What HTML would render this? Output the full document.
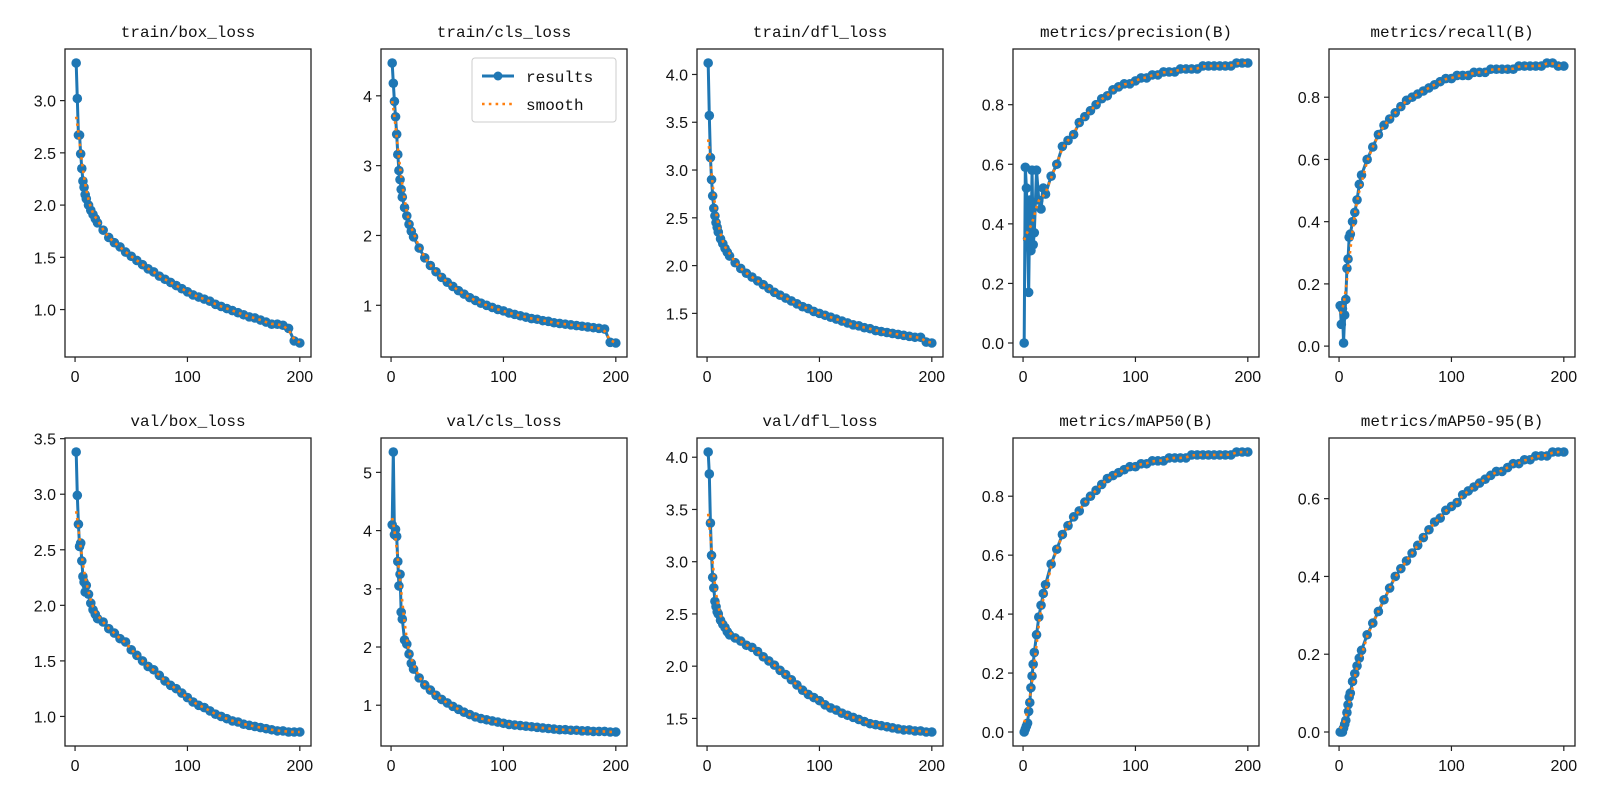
<!DOCTYPE html>
<html><head><meta charset="utf-8"><style>
html,body{margin:0;padding:0;background:#fff;}
svg{display:block;}
text{font-family:"Liberation Sans","Noto Sans CJK SC",sans-serif;fill:#111;}
.title{font-family:"Liberation Mono","Noto Sans CJK SC",monospace;font-size:16px;}
.tick{font-size:16px;}
</style></head><body>
<svg id="fig" width="1600" height="800" viewBox="0 0 1600 800" xmlns="http://www.w3.org/2000/svg"></svg>
<script>
const epochs=[1,2,3,4,5,6,7,8,9,10,12,14,16,18,20,25,30,35,40,45,50,55,60,65,70,75,80,85,90,95,100,105,110,115,120,125,130,135,140,145,150,155,160,165,170,175,180,185,190,195,200];
const titles=["train/box_loss","train/cls_loss","train/dfl_loss","metrics/precision(B)","metrics/recall(B)","val/box_loss","val/cls_loss","val/dfl_loss","metrics/mAP50(B)","metrics/mAP50-95(B)"];
const trainBox=[3.36,3.02,2.67,2.67,2.49,2.35,2.23,2.17,2.10,2.06,2.00,1.95,1.91,1.87,1.83,1.76,1.69,1.64,1.60,1.55,1.51,1.47,1.43,1.39,1.36,1.32,1.29,1.26,1.23,1.20,1.17,1.14,1.12,1.10,1.08,1.05,1.03,1.01,0.99,0.97,0.95,0.93,0.92,0.90,0.88,0.86,0.86,0.85,0.82,0.70,0.68];
const trainCls=[4.47,4.18,3.92,3.70,3.45,3.16,2.93,2.80,2.66,2.55,2.40,2.28,2.16,2.06,1.98,1.82,1.68,1.57,1.48,1.40,1.33,1.27,1.21,1.16,1.11,1.07,1.03,1.00,0.97,0.94,0.92,0.89,0.87,0.85,0.83,0.81,0.80,0.78,0.77,0.75,0.74,0.73,0.72,0.71,0.70,0.69,0.68,0.67,0.66,0.47,0.46];
const trainDfl=[4.12,3.57,3.13,2.90,2.73,2.60,2.52,2.45,2.40,2.35,2.28,2.23,2.18,2.14,2.10,2.03,1.97,1.92,1.88,1.84,1.80,1.76,1.72,1.69,1.66,1.63,1.60,1.57,1.55,1.52,1.50,1.48,1.46,1.44,1.42,1.40,1.38,1.37,1.35,1.34,1.32,1.31,1.30,1.29,1.28,1.27,1.26,1.25,1.25,1.20,1.19];
const precision=[0.00,0.59,0.52,0.35,0.17,0.48,0.31,0.58,0.33,0.37,0.58,0.48,0.45,0.52,0.50,0.56,0.60,0.66,0.68,0.70,0.74,0.76,0.78,0.80,0.82,0.83,0.85,0.86,0.87,0.87,0.88,0.89,0.89,0.90,0.90,0.91,0.91,0.91,0.92,0.92,0.92,0.92,0.93,0.93,0.93,0.93,0.93,0.93,0.94,0.94,0.94];
const recall=[0.13,0.07,0.12,0.01,0.10,0.15,0.25,0.28,0.35,0.36,0.40,0.43,0.47,0.52,0.55,0.60,0.64,0.68,0.71,0.73,0.75,0.77,0.79,0.80,0.81,0.82,0.83,0.84,0.85,0.86,0.86,0.87,0.87,0.87,0.88,0.88,0.88,0.89,0.89,0.89,0.89,0.89,0.90,0.90,0.90,0.90,0.90,0.91,0.91,0.90,0.90];
const valBox=[3.38,2.99,2.73,2.53,2.56,2.40,2.26,2.21,2.12,2.18,2.10,2.02,1.96,1.92,1.88,1.85,1.79,1.75,1.70,1.67,1.60,1.55,1.50,1.45,1.42,1.37,1.32,1.28,1.25,1.21,1.17,1.13,1.10,1.08,1.05,1.02,1.00,0.98,0.96,0.95,0.93,0.92,0.91,0.90,0.89,0.88,0.87,0.87,0.86,0.86,0.86];
const valCls=[4.10,5.35,3.93,4.02,3.90,3.47,3.05,3.25,2.60,2.48,2.12,2.05,1.88,1.72,1.62,1.47,1.35,1.26,1.17,1.10,1.04,0.98,0.93,0.88,0.84,0.80,0.77,0.75,0.73,0.71,0.69,0.67,0.66,0.65,0.64,0.63,0.62,0.61,0.60,0.59,0.58,0.58,0.57,0.57,0.56,0.56,0.55,0.55,0.55,0.54,0.54];
const valDfl=[4.05,3.84,3.37,3.06,2.85,2.75,2.62,2.57,2.52,2.50,2.44,2.40,2.37,2.33,2.30,2.27,2.24,2.20,2.18,2.14,2.09,2.05,2.01,1.96,1.92,1.87,1.82,1.77,1.73,1.70,1.67,1.63,1.60,1.58,1.55,1.53,1.51,1.49,1.47,1.45,1.44,1.43,1.42,1.41,1.40,1.39,1.39,1.38,1.38,1.37,1.37];
const map50=[0.00,0.01,0.02,0.03,0.07,0.10,0.15,0.19,0.23,0.27,0.33,0.39,0.43,0.47,0.50,0.57,0.62,0.67,0.70,0.73,0.75,0.78,0.80,0.82,0.84,0.86,0.87,0.88,0.89,0.90,0.90,0.91,0.91,0.92,0.92,0.92,0.93,0.93,0.93,0.93,0.94,0.94,0.94,0.94,0.94,0.94,0.94,0.94,0.95,0.95,0.95];
const map5095=[0.00,0.00,0.00,0.01,0.02,0.03,0.05,0.07,0.09,0.10,0.13,0.15,0.17,0.19,0.21,0.25,0.28,0.31,0.34,0.37,0.40,0.42,0.44,0.46,0.48,0.50,0.52,0.54,0.55,0.57,0.58,0.59,0.61,0.62,0.63,0.64,0.65,0.66,0.67,0.67,0.68,0.69,0.69,0.70,0.70,0.71,0.71,0.71,0.72,0.72,0.72];
const xTicks=[0,100,200];
const yTicks=[[1.0,1.5,2.0,2.5,3.0],[1,2,3,4],[1.5,2.0,2.5,3.0,3.5,4.0],[0.0,0.2,0.4,0.6,0.8],[0.0,0.2,0.4,0.6,0.8],[1.0,1.5,2.0,2.5,3.0,3.5],[1,2,3,4,5],[1.5,2.0,2.5,3.0,3.5,4.0],[0.0,0.2,0.4,0.6,0.8],[0.0,0.2,0.4,0.6]];
const yDecimals=[1,0,1,1,1,1,0,1,1,1];
const series=[trainBox,trainCls,trainDfl,precision,recall,valBox,valCls,valDfl,map50,map5095];

const NS="http://www.w3.org/2000/svg";
const fig=document.getElementById('fig');
function mk(tag,attrs,parent){const e=document.createElementNS(NS,tag);for(const k in attrs)e.setAttribute(k,attrs[k]);parent.appendChild(e);return e;}
function smooth(xs,ys,sigma){return xs.map(x0=>{let s=0,w=0;xs.forEach((x,i)=>{const d=(x-x0)/sigma;const g=Math.exp(-0.5*d*d);s+=g*ys[i];w+=g;});return s/w;});}
const W=246,H=308;
series.forEach((ys,p)=>{
  const col=p%5,row=Math.floor(p/5);
  const L=65+316*col,T=row===0?49:438;
  const g=mk('g',{},fig);
  
  
  const xmin=Math.min(...epochs),xmax=Math.max(...epochs),xr=xmax-xmin;
  const x0=xmin-0.05*xr,x1=xmax+0.05*xr;
  const ymn=Math.min(...ys),ymx=Math.max(...ys),yr=ymx-ymn;
  const y0=ymn-0.05*yr,y1=ymx+0.05*yr;
  const sx=v=>L+(v-x0)/(x1-x0)*W;
  const sy=v=>T+H-(v-y0)/(y1-y0)*H;
  const t=mk('text',{x:L+W/2,y:T-12,'text-anchor':'middle',class:'title'},g);
  t.textContent=titles[p];
  
  
  const pts=epochs.map((e,i)=>sx(e).toFixed(2)+','+sy(ys[i]).toFixed(2)).join(' ');
  const ln=mk('polyline',{points:pts,fill:'none',stroke:'#1f77b4','stroke-width':3,'stroke-linejoin':'round'},g);
  
  
  epochs.forEach((e,i)=>{
    const c=mk('circle',{cx:sx(e),cy:sy(ys[i]),r:4.8,fill:'#1f77b4'},g);
    
    
  });
  const sm=smooth(epochs,ys,3);
  const spts=epochs.map((e,i)=>sx(e).toFixed(2)+','+sy(sm[i]).toFixed(2)).join(' ');
  const sl=mk('polyline',{points:spts,fill:'none',stroke:'#ff7f0e','stroke-width':2.6,'stroke-dasharray':'2.6 4.2'},g);
  
  
  const fr=mk('rect',{x:L,y:T,width:W,height:H,fill:'none',stroke:'#222','stroke-width':1.3},g);
  
  
  xTicks.forEach(v=>{
    const X=sx(v);
    mk('line',{x1:X,x2:X,y1:T+H,y2:T+H+5,stroke:'#222','stroke-width':1.2},g);
    const tx=mk('text',{x:X,y:T+H+25,'text-anchor':'middle',class:'tick'},g);
    tx.textContent=String(v);
    
    
  });
  yTicks[p].forEach(v=>{
    const Y=sy(v);
    mk('line',{x1:L-5,x2:L,y1:Y,y2:Y,stroke:'#222','stroke-width':1.2},g);
    const ty=mk('text',{x:L-9,y:Y+6,'text-anchor':'end',class:'tick'},g);
    ty.textContent=v.toFixed(yDecimals[p]);
    
    
  });
  if(p===1){
    const lg=mk('g',{},g);
    
    
    mk('rect',{x:472,y:58,width:144,height:64,rx:3,fill:'#fff',stroke:'#ccc','stroke-width':1},lg);
    mk('line',{x1:482,x2:514,y1:76,y2:76,stroke:'#1f77b4','stroke-width':3},lg);
    mk('circle',{cx:498,cy:76,r:4.5,fill:'#1f77b4'},lg);
    const a=mk('text',{x:526,y:82,class:'title'},lg);a.textContent='results';
    
    
    mk('line',{x1:482,x2:514,y1:104,y2:104,stroke:'#ff7f0e','stroke-width':2.6,'stroke-dasharray':'2.6 4.2'},lg);
    const b=mk('text',{x:526,y:110,class:'title'},lg);b.textContent='smooth';
    
    
  }
});
</script>
</body></html>
